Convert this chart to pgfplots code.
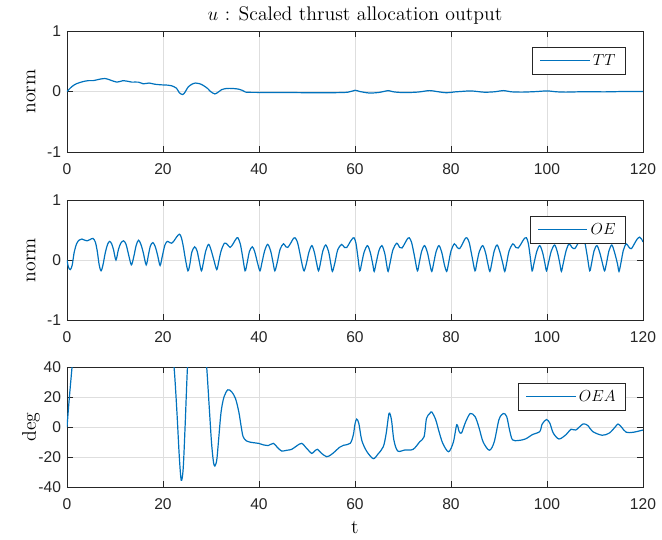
\documentclass[border=0pt]{standalone}
\usepackage{fontspec}
\usepackage{pgfplots}
\pgfplotsset{compat=1.18}
\newfontfamily\arial{Liberation Sans}
\definecolor{mblue}{rgb}{0,0.447,0.741}
\definecolor{maxis}{rgb}{0.15,0.15,0.15}
\definecolor{mgrid}{rgb}{0.87,0.87,0.87}

\pgfplotsset{
  mstyle/.style={
    scale only axis, width=432pt,
    xmin=0, xmax=120, xtick={0,20,...,120},
    grid=major, major grid style={mgrid, line width=0.6pt},
    axis line style={maxis, line width=0.6pt},
    tick style={maxis, line width=0.6pt},
    tick align=inside, major tick length=4.5pt,
    tick label style={font=\arial\fontsize{11.7}{13}\selectfont, text=maxis},
    /pgf/number format/assume math mode=true,
    xticklabel style={yshift=-5pt},
    yticklabel style={xshift=-1pt},
    every axis y label/.style={at={(rel axis cs:0,0.5)}, rotate=90, anchor=center, yshift=27pt},
    every axis x label/.style={at={(rel axis cs:0.5,0)}, anchor=center, yshift=-30.5pt},
    label style={font=\fontsize{14.8}{16}\selectfont},
    legend style={draw=maxis, line width=0.6pt, fill=white,
      at={(0.9705,0.864)}, anchor=north east,
      font=\fontsize{13}{15}\selectfont, inner xsep=5.5pt, inner ysep=3pt},
    legend cell align=left,
    legend image code/.code={\draw[mblue, line width=0.9pt] (7pt,0.2pt) -- (44pt,0.2pt);},
  },
  mline/.style={mblue, line width=0.9pt, smooth, no markers},
}

\begin{document}
\begin{tikzpicture}
\useasboundingbox (0pt,0pt) rectangle (496.5pt,-405pt);

\node[font=\fontsize{14.8}{16}\selectfont] at (266.25pt,-11.5pt) {$u$ : Scaled thrust allocation output};

% TT
\begin{axis}[mstyle, at={(50.25pt,-114pt)}, anchor=south west, height=90.75pt,
  ymin=-1, ymax=1, ytick={-1,0,1}, ylabel={norm}]
\addplot[mline] coordinates {
(0,0) (1,0.08) (2,0.13) (3.4,0.165) (4.5,0.18) (5.5,0.18) (6.6,0.2) (7.9,0.215)
(9,0.19) (10.4,0.155) (11.7,0.18) (12.6,0.17) (13.5,0.155) (14.9,0.155) (15.9,0.127)
(17.1,0.14) (18.3,0.12) (19.7,0.11) (21,0.105) (21.8,0.095) (22.8,0.055) (23.4,-0.02)
(24.1,-0.05) (24.6,-0.01) (25.2,0.07) (26,0.12) (26.8,0.14) (27.6,0.13) (28.4,0.1)
(29.3,0.05) (29.9,0.0) (30.8,-0.04) (31.5,-0.01) (32.2,0.03) (33.2,0.05) (34.5,0.05)
(35.7,0.04) (36.5,0.02) (37.2,-0.01) (40,-0.015) (45,-0.015) (50,-0.02) (55,-0.02)
(58.5,-0.012) (60,0.02) (61,0.0) (63,-0.025) (65,-0.015) (67,0.015) (68,-0.005) (70,-0.018)
(73,-0.01) (75.5,0.015) (77,0.0) (79,-0.02) (81,-0.005) (82,0.0) (84,0.01) (85.5,0.0)
(87,-0.012) (89,-0.005) (91,0.015) (92.5,-0.005) (95,-0.01) (98,0.0) (100,0.01)
(102,-0.005) (104,-0.01) (108,-0.003) (112,-0.006) (116,0.0) (120,0.0)
};
\addlegendentry{$TT$}
\end{axis}

% OE
\begin{axis}[mstyle, at={(50.25pt,-240pt)}, anchor=south west, height=90pt,
  ymin=-1, ymax=1, ytick={-1,0,1}, ylabel={norm}]
\addplot[mline] coordinates {
(0,0) (0.3,-0.12) (0.7,-0.16) (1.1,-0.08) (1.5,0.13) (2.0,0.27) (2.5,0.33) (3.1,0.35)
(3.7,0.33) (4.2,0.32) (4.8,0.34) (5.4,0.36) (5.9,0.3) (6.3,0.15) (6.7,-0.08) (7.1,-0.18)
(7.5,-0.08) (8.0,0.13) (8.5,0.27) (8.9,0.31) (9.3,0.27) (9.7,0.17) (10.2,0.0) (10.7,0.17)
(11.2,0.28) (11.8,0.32) (12.3,0.26) (12.8,0.1) (13.4,-0.08) (13.9,0.05) (14.4,0.24)
(14.9,0.33) (15.4,0.26) (15.9,0.12) (16.5,-0.08) (17.0,0.1) (17.4,0.24) (17.9,0.29)
(18.4,0.22) (18.9,0.07) (19.4,-0.09) (19.9,0.08) (20.4,0.25) (20.9,0.31) (21.4,0.29)
(21.8,0.28) (22.3,0.32) (22.8,0.38) (23.4,0.43) (23.8,0.38) (24.2,0.24) (24.7,0.0)
(25.2,-0.18) (25.6,-0.07) (26.0,0.13) (26.6,0.22) (27.1,0.15) (27.5,0.0) (28.0,-0.18)
(28.4,-0.05) (28.9,0.15) (29.5,0.26) (30.0,0.17) (30.6,0.0) (31.2,-0.16) (31.6,-0.03)
(32.1,0.15) (32.8,0.28) (33.4,0.26) (34.0,0.21) (34.6,0.27) (35.2,0.35) (35.6,0.37)
(36.1,0.27) (36.6,0.05) (37.1,-0.18) (37.5,-0.06) (38.0,0.14) (38.6,0.22) (39.1,0.14)
(39.7,-0.05) (40.2,-0.18) (40.6,-0.05) (41.2,0.16) (41.8,0.26) (42.4,0.16) (42.9,-0.03)
(43.3,-0.18) (43.8,-0.04) (44.4,0.18) (45.1,0.27) (45.6,0.22) (46.0,0.21) (46.6,0.28)
(47.1,0.35) (47.5,0.37) (48.0,0.3) (48.5,0.12) (49.0,-0.08) (49.4,-0.18) (49.9,-0.05)
(50.4,0.13) (51.0,0.24) (51.5,0.14) (52.0,-0.05) (52.4,-0.18) (52.8,-0.05) (53.3,0.15)
(53.9,0.25) (54.5,0.14) (55.0,-0.08) (55.3,-0.19) (55.8,-0.05) (56.4,0.17) (57.2,0.26)
(57.8,0.21) (58.3,0.21) (58.9,0.29) (59.4,0.35) (59.8,0.37) (60.2,0.28) (60.6,0.05)
(61.0,-0.18) (61.4,-0.05) (61.9,0.13) (62.6,0.24) (63.2,0.12) (63.7,-0.07) (64.0,-0.19)
(64.4,-0.05) (65.0,0.16) (65.6,0.24) (66.2,0.11) (66.6,-0.08) (66.9,-0.19) (67.3,-0.05)
(67.9,0.17) (68.7,0.28) (69.3,0.21) (69.8,0.2) (70.4,0.28) (70.9,0.35) (71.3,0.37)
(71.8,0.29) (72.4,0.06) (73.0,-0.18) (73.4,-0.04) (73.9,0.15) (74.5,0.24) (75.1,0.12)
(75.6,-0.07) (76.0,-0.19) (76.4,-0.05) (76.9,0.14) (77.5,0.24) (78.1,0.12) (78.6,-0.07)
(79.1,-0.19) (79.5,-0.05) (80.0,0.15) (80.7,0.27) (81.3,0.21) (81.8,0.19) (82.4,0.27)
(82.9,0.35) (83.3,0.37) (83.8,0.29) (84.4,0.05) (85.0,-0.18) (85.4,-0.04) (85.9,0.14)
(86.6,0.24) (87.2,0.12) (87.7,-0.07) (88.1,-0.19) (88.5,-0.05) (89.0,0.15) (89.6,0.25)
(90.2,0.13) (90.8,-0.06) (91.2,-0.19) (91.6,-0.05) (92.1,0.15) (92.9,0.27) (93.5,0.21)
(94.0,0.2) (94.6,0.27) (95.2,0.35) (95.7,0.37) (96.1,0.28) (96.5,0.06) (96.9,-0.18)
(97.3,-0.05) (97.9,0.15) (98.5,0.24) (99.1,0.12) (99.6,-0.07) (99.9,-0.18) (100.3,-0.05)
(100.9,0.15) (101.6,0.25) (102.2,0.12) (102.7,-0.07) (103.0,-0.19) (103.4,-0.05)
(104.0,0.16) (104.6,0.27) (105.2,0.21) (105.8,0.19) (106.4,0.27) (107.0,0.35) (107.5,0.37)
(107.9,0.29) (108.4,0.06) (108.9,-0.18) (109.3,-0.05) (109.8,0.15) (110.4,0.24)
(111.0,0.12) (111.6,-0.07) (112.0,-0.18) (112.4,-0.05) (112.9,0.15) (113.5,0.25)
(114.1,0.12) (114.7,-0.07) (115.0,-0.19) (115.4,-0.05) (115.9,0.16) (116.5,0.27)
(117.1,0.21) (117.6,0.19) (118.2,0.27) (118.8,0.35) (119.3,0.38) (119.7,0.35) (120.0,0.3)
};
\addlegendentry{$OE$}
\end{axis}

% OEA
\begin{axis}[mstyle, at={(50.25pt,-365.25pt)}, anchor=south west, height=90pt,
  ymin=-40, ymax=40, ytick={-40,-20,...,40}, ylabel={deg}, xlabel={t}]
\addplot[mline] coordinates {
(0,0) (0.5,20) (1.05,40) (1.6,60) (3,80) (20,80) (21.5,60) (22.3,40) (22.9,10)
(23.4,-20) (23.8,-35.5) (24.2,-28) (24.6,0) (25.1,40) (25.6,60) (28.5,60) (29.1,40)
(29.6,15) (30.1,-10) (30.5,-23) (30.8,-26) (31.2,-22) (31.6,-8) (32.1,10) (32.7,20)
(33.5,24.8) (34.3,23.5) (35.1,19) (35.8,10) (36.3,0) (36.7,-6.5) (37.4,-9.3) (38.5,-10.3)
(39.9,-10.9) (41.0,-12) (41.9,-12.4) (43.0,-10.9) (43.8,-13.5) (44.7,-16) (45.8,-15.5)
(46.8,-14.9) (47.9,-12.5) (48.9,-10.9) (50.0,-14.5) (51.0,-17.6) (51.6,-16) (52.2,-14.9)
(53.0,-17.5) (54.1,-19.8) (55.0,-18.5) (55.8,-16.4) (56.8,-13.5) (57.6,-12.2) (59.0,-10.9)
(59.65,-5.3) (60.0,2) (60.35,5.3) (60.8,2.4) (61.4,-8.7) (62.4,-16) (63.8,-21.1)
(64.8,-18) (65.9,-13.1) (66.5,-4.2) (67.1,9.1) (67.6,4.7) (68.1,-8.7) (68.9,-16)
(70.4,-15.3) (72.1,-14.9) (73.5,-9.8) (74.4,-6.4) (74.9,5.8) (75.6,9.1) (76.0,10)
(76.8,5) (77.5,-3) (78.3,-11) (79.5,-16.5) (80.5,-10) (81.2,1.5) (81.7,-3) (82.2,-4)
(83.0,3) (84.0,9) (85.0,7) (85.8,0) (86.7,-10) (88.0,-15.5) (89.0,-10) (90.0,5) (90.9,9)
(91.6,7) (92.2,-2) (92.8,-8.5) (94.0,-9) (95.5,-8) (97.0,-5) (98.5,-3) (99.0,2) (99.9,5)
(100.6,2.5) (101.3,-4) (102.5,-8) (104.0,-5) (105.0,-1.5) (106.0,-2) (107.5,2) (108.5,1)
(109.5,-3) (111.5,-5.5) (113.0,-4) (114.2,0) (114.8,2) (115.5,0) (116.5,-3.5) (118.0,-3.5)
(120.0,-2)
};
\addlegendentry{$OEA$}
\end{axis}
\end{tikzpicture}
\end{document}
